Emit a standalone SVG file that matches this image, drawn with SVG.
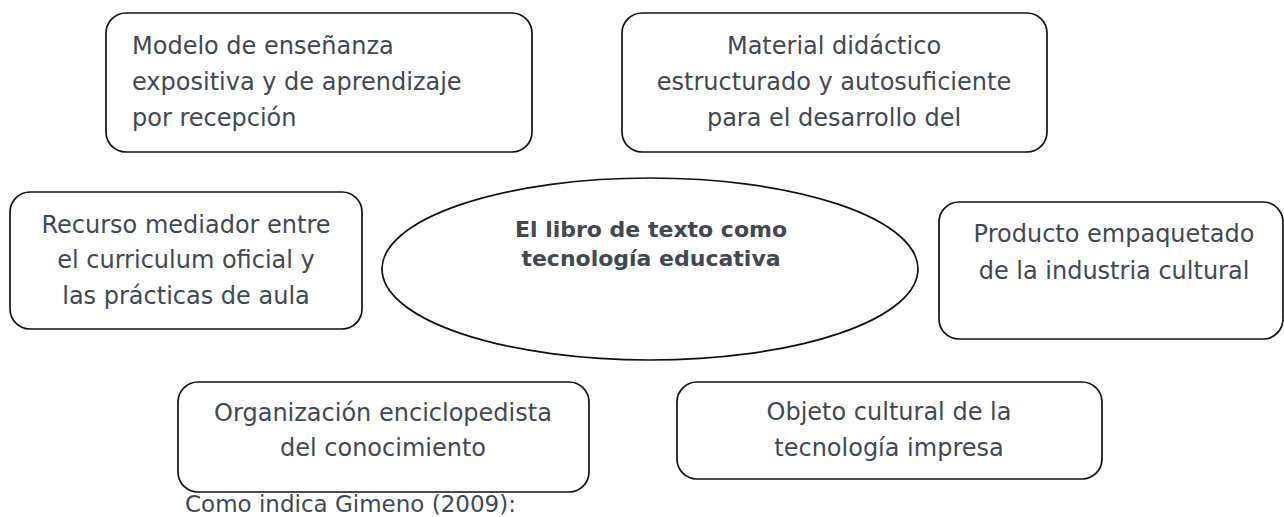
<svg xmlns="http://www.w3.org/2000/svg" width="1284" height="517" viewBox="0 0 1284 517">
<style>
.box{fill:#fff;stroke:#111;stroke-width:1.7}
.t{font-family:"DejaVu Sans",sans-serif;font-size:24px;fill:#414853}
.c{text-anchor:middle}
.b{font-family:"DejaVu Sans",sans-serif;font-size:22px;font-weight:bold;fill:#414853;text-anchor:middle}
</style>
<rect width="1284" height="517" fill="#fff"/>
<g id="connectors"></g>
<g id="n1">
<rect class="box" x="106" y="13" width="426" height="139" rx="20"/>
<text class="t" x="132" y="54">Modelo de enseñanza</text>
<text class="t" x="132" y="90">expositiva y de aprendizaje</text>
<text class="t" x="132" y="126">por recepción</text>
</g>
<g id="n2">
<rect class="box" x="622" y="13" width="425" height="139" rx="20"/>
<text class="t c" x="834" y="54">Material didáctico</text>
<text class="t c" x="834" y="90">estructurado y autosuficiente</text>
<text class="t c" x="834" y="126">para el desarrollo del</text>
</g>
<g id="n3">
<rect class="box" x="10" y="192" width="352" height="137" rx="20"/>
<text class="t c" x="186" y="233">Recurso mediador entre</text>
<text class="t c" x="186" y="268">el curriculum oficial y</text>
<text class="t c" x="186" y="304">las prácticas de aula</text>
</g>
<g id="center">
<ellipse class="box" cx="650" cy="269" rx="268" ry="91"/>
<text class="b" x="651" y="237">El libro de texto como</text>
<text class="b" x="651" y="266">tecnología educativa</text>
</g>
<g id="n5">
<rect class="box" x="939" y="202" width="344" height="137" rx="20"/>
<text class="t c" x="1114" y="242">Producto empaquetado</text>
<text class="t c" x="1114" y="279">de la industria cultural</text>
</g>
<g id="n6">
<rect class="box" x="178" y="382" width="411" height="110" rx="20"/>
<text class="t c" x="383" y="421">Organización enciclopedista</text>
<text class="t c" x="383" y="456">del conocimiento</text>
</g>
<g id="n7">
<rect class="box" x="677" y="382" width="425" height="97" rx="20"/>
<text class="t c" x="889" y="420">Objeto cultural de la</text>
<text class="t c" x="889" y="456">tecnología impresa</text>
</g>
<text class="t" x="185" y="512" style="font-size:23px">Como indica Gimeno (2009):</text>
</svg>
